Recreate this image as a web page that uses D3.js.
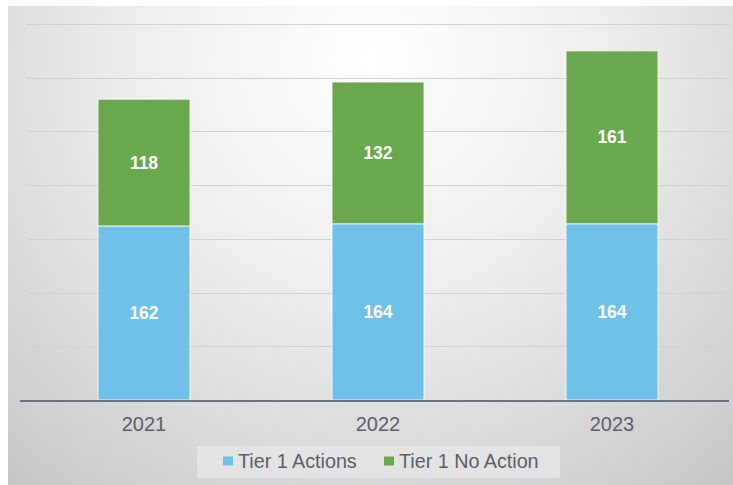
<!DOCTYPE html>
<html>
<head>
<meta charset="utf-8">
<script src="https://cdn.jsdelivr.net/npm/d3@7"></script>
<style>
  body { margin: 0; background: #fff; }
  svg { display: block; font-family: "Liberation Sans", Arial, sans-serif; }
</style>
</head>
<body>
<svg id="chart" width="733" height="485"></svg>
<script>
// data
const years = ["2021", "2022", "2023"];
const tierActions = [162, 164, 164];
const tierNoAction = [118, 132, 161];
const seriesNames = ["Tier 1 Actions", "Tier 1 No Action"];
const seriesColors = ["#70c1e8", "#6aa84f"];
const yTicks = [0, 50, 100, 150, 200, 250, 300, 350];

const svg = d3.select("#chart");
const W = 733, H = 485;
const margin = {top: 24, right: 4, bottom: 85, left: 27};

// background gradient
const defs = svg.append("defs");
const grad = defs.append("radialGradient")
    .attr("id", "bg")
    .attr("gradientUnits", "userSpaceOnUse")
    .attr("cx", 370).attr("cy", 60).attr("r", 560);
grad.append("stop").attr("offset", "0%").attr("stop-color", "#ffffff");
grad.append("stop").attr("offset", "45%").attr("stop-color", "#ececec");
grad.append("stop").attr("offset", "100%").attr("stop-color", "#c6c6c6");

svg.append("rect")
    .attr("x", 8).attr("y", 6)
    .attr("width", W - 8).attr("height", H - 6)
    .attr("fill", "url(#bg)");

const x = d3.scaleBand()
    .domain(years)
    .range([margin.left, W - margin.right])
    .paddingInner(0.607)
    .paddingOuter(0.3035);

const y = d3.scaleLinear()
    .domain([0, 350])
    .range([H - margin.bottom, margin.top]);

// gridlines
svg.append("g")
    .selectAll("line")
    .data(yTicks.slice(1))
    .join("line")
    .attr("x1", margin.left).attr("x2", W - margin.right)
    .attr("y1", d => Math.round(y(d)) + 0.5)
    .attr("y2", d => Math.round(y(d)) + 0.5)
    .attr("stroke", "#d2d2d2")
    .attr("stroke-width", 1);

// stacked bars
const rows = years.map((yr, i) => ({year: yr, a: tierActions[i], b: tierNoAction[i]}));
const stack = d3.stack().keys(["a", "b"])(rows);

const layers = svg.append("g")
    .selectAll("g")
    .data(stack)
    .join("g")
    .attr("fill", (d, i) => seriesColors[i]);

layers.selectAll("rect")
    .data(d => d)
    .join("rect")
    .attr("x", d => x(d.data.year))
    .attr("width", x.bandwidth())
    .attr("y", d => y(d[1]))
    .attr("height", d => y(d[0]) - y(d[1]))
    .attr("stroke", "#ffffff")
    .attr("stroke-opacity", 0.8)
    .attr("stroke-width", 1);

layers.selectAll("text")
    .data(d => d)
    .join("text")
    .attr("x", d => x(d.data.year) + x.bandwidth() / 2)
    .attr("y", d => (y(d[0]) + y(d[1])) / 2)
    .attr("dy", "0.35em")
    .attr("text-anchor", "middle")
    .attr("fill", "#ffffff")
    .attr("font-weight", "bold")
    .attr("font-size", 17.5)
    .text(d => d[1] - d[0]);

// baseline
svg.append("line")
    .attr("x1", 20).attr("x2", W - margin.right)
    .attr("y1", y(0) + 1).attr("y2", y(0) + 1)
    .attr("stroke", "#6b737c")
    .attr("stroke-width", 2);

// category labels
const xAxis = d3.axisBottom(x).tickSize(0).tickPadding(17);
const gx = svg.append("g")
    .attr("transform", "translate(0," + y(0) + ")")
    .call(xAxis);
gx.select(".domain").remove();
gx.selectAll("text")
    .attr("font-size", 20)
    .attr("fill", "#5b6069")
    .attr("font-family", "Liberation Sans, Arial, sans-serif");

// legend
const legend = svg.append("g");
legend.append("rect")
    .attr("x", 197).attr("y", 446)
    .attr("width", 363).attr("height", 32)
    .attr("fill", "#e4e4e4")
    .attr("opacity", 0.9);

const legendX = [223, 384];
const items = legend.selectAll("g")
    .data(seriesNames)
    .join("g")
    .attr("transform", (d, i) => "translate(" + legendX[i] + ",461)");
items.append("rect")
    .attr("x", 0).attr("y", -4.5)
    .attr("width", 10).attr("height", 9)
    .attr("fill", (d, i) => seriesColors[i]);
items.append("text")
    .attr("transform", "translate(15,0) scale(0.94,1)")
    .attr("dy", "0.35em")
    .attr("font-size", 21)
    .attr("fill", "#5b6069")
    .text(d => d);
</script>
</body>
</html>
